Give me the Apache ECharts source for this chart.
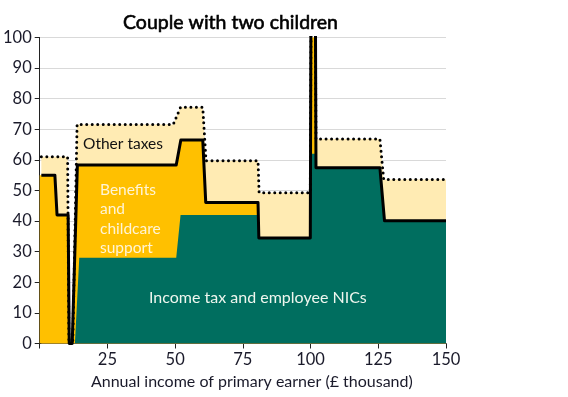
<!DOCTYPE html>
<html>
<head>
<meta charset="utf-8">
<script src="https://cdn.jsdelivr.net/npm/echarts@6/dist/echarts.min.js"></script>
<style>
  html, body { margin: 0; padding: 0; background: #fff; }
  #chart { width: 568px; height: 397px; }
</style>
</head>
<body>
<div id="chart"></div>
<script>
// income points in £ thousand, rates in %
const allTaxes = [[0.6, 61], [10.3, 61], [10.8, 0], [12.2, 0], [13.8, 71.6], [49.3, 71.6], [52, 77.2], [60.2, 77.2],
  [61.4, 59.7], [80.6, 59.7], [81, 49.3], [99.9, 49.3], [100.3, 130], [101.6, 130], [102, 66.8], [125.6, 66.8],
  [127, 53.6], [150, 53.6]]
const taxAndBenefits = [[0.6, 55], [5.6, 55], [6.4, 42], [10.5, 42], [10.9, 0], [12, 0], [13.9, 58.3], [50.4, 58.3],
  [52.1, 66.5], [60.2, 66.5], [61.3, 46.1], [80.6, 46.1], [80.9, 34.5], [99.9, 34.5], [100.2, 130], [101.7, 130],
  [102, 57.4], [125.6, 57.4], [127.3, 40.1], [150, 40.1]]
const benefitsFill = [[0, 55], [5.6, 55], [6.4, 42], [10.5, 42], [10.9, 0]]
const incomeTaxNics = [[0.5, 0], [13, 0], [14.6, 28], [50.4, 28], [52, 42], [80.6, 42], [80.9, 34.5], [99.9, 34.5],
  [100.4, 62], [101.7, 62], [102, 57.4], [125.6, 57.4], [127.3, 40.1], [150, 40.1]]
const xTicks = [0, 25, 50, 75, 100, 125, 150]

const FONT = 'Lato'
const myChart = echarts.init(document.getElementById('chart'))
myChart.setOption({
  animation: false,
  backgroundColor: '#fff',
  textStyle: { fontFamily: FONT },
  title: {
    text: 'Couple with two children',
    left: 118,
    top: 8,
    textStyle: {
      fontSize: 19.5, fontWeight: 'normal', color: '#000', fontFamily: FONT,
      textBorderColor: '#000', textBorderWidth: 0.6
    }
  },
  grid: { left: 39, right: 122, top: 37.5, bottom: 53.5 },
  xAxis: {
    type: 'value',
    min: 0,
    max: 150,
    interval: 25,
    name: 'Annual income of primary earner (£ thousand)',
    nameLocation: 'middle',
    nameGap: 29,
    nameTextStyle: { fontSize: 16, color: '#1a1a2a', padding: [0, 0, 0, 18] },
    axisLine: { lineStyle: { color: '#222', width: 1 } },
    axisTick: { length: 5, lineStyle: { color: '#222' } },
    axisLabel: {
      fontSize: 16.5,
      color: '#1a1a2a',
      margin: 8,
      formatter: v => (xTicks.indexOf(v) > 0 ? String(v) : '')
    },
    splitLine: { show: false }
  },
  yAxis: {
    type: 'value',
    min: 0,
    max: 100,
    interval: 10,
    axisLine: { show: true, lineStyle: { color: '#222', width: 1 } },
    axisTick: { show: true, length: 5, lineStyle: { color: '#222' } },
    axisLabel: { fontSize: 16.5, color: '#1a1a2a', margin: 8 },
    splitLine: { lineStyle: { color: '#d9d9d9' } }
  },
  series: [
    {
      name: 'Other taxes',
      type: 'line',
      data: allTaxes,
      symbol: 'none',
      lineStyle: { width: 0 },
      areaStyle: { color: '#ffebb3', opacity: 1 },
      z: 1
    },
    {
      name: 'Benefits and childcare support',
      type: 'line',
      data: taxAndBenefits,
      symbol: 'none',
      lineStyle: { width: 0 },
      areaStyle: { color: '#ffc000', opacity: 1 },
      z: 2
    },
    {
      name: 'Benefits (left edge)',
      type: 'line',
      data: benefitsFill,
      symbol: 'none',
      lineStyle: { width: 0 },
      areaStyle: { color: '#ffc000', opacity: 1 },
      z: 2
    },
    {
      name: 'Income tax and employee NICs',
      type: 'line',
      data: incomeTaxNics,
      symbol: 'none',
      lineStyle: { width: 0 },
      areaStyle: { color: '#006e5f', opacity: 1 },
      z: 3
    },
    {
      name: 'Total excl. other taxes',
      type: 'line',
      data: taxAndBenefits,
      symbol: 'none',
      lineStyle: { color: '#000', width: 3, join: 'round' },
      z: 4
    },
    {
      name: 'Total',
      type: 'line',
      data: allTaxes,
      symbol: 'none',
      lineStyle: { color: '#000', width: 3, type: [0, 5.5], cap: 'round' },
      z: 5
    }
  ],
  graphic: [
    {
      type: 'text', left: 83, top: 136, z: 10,
      style: { text: 'Other taxes', fontSize: 15.5, fontFamily: FONT, fill: '#111' }
    },
    {
      type: 'text', left: 100, top: 180, z: 10,
      style: { text: 'Benefits\nand\nchildcare\nsupport', fontSize: 15.5, lineHeight: 19.5, fontFamily: FONT, fill: '#fff4d6' }
    },
    {
      type: 'text', left: 149, top: 290, z: 10,
      style: { text: 'Income tax and employee NICs', fontSize: 16, fontFamily: FONT, fill: '#eef6ee' }
    }
  ]
})
</script>
</body>
</html>
